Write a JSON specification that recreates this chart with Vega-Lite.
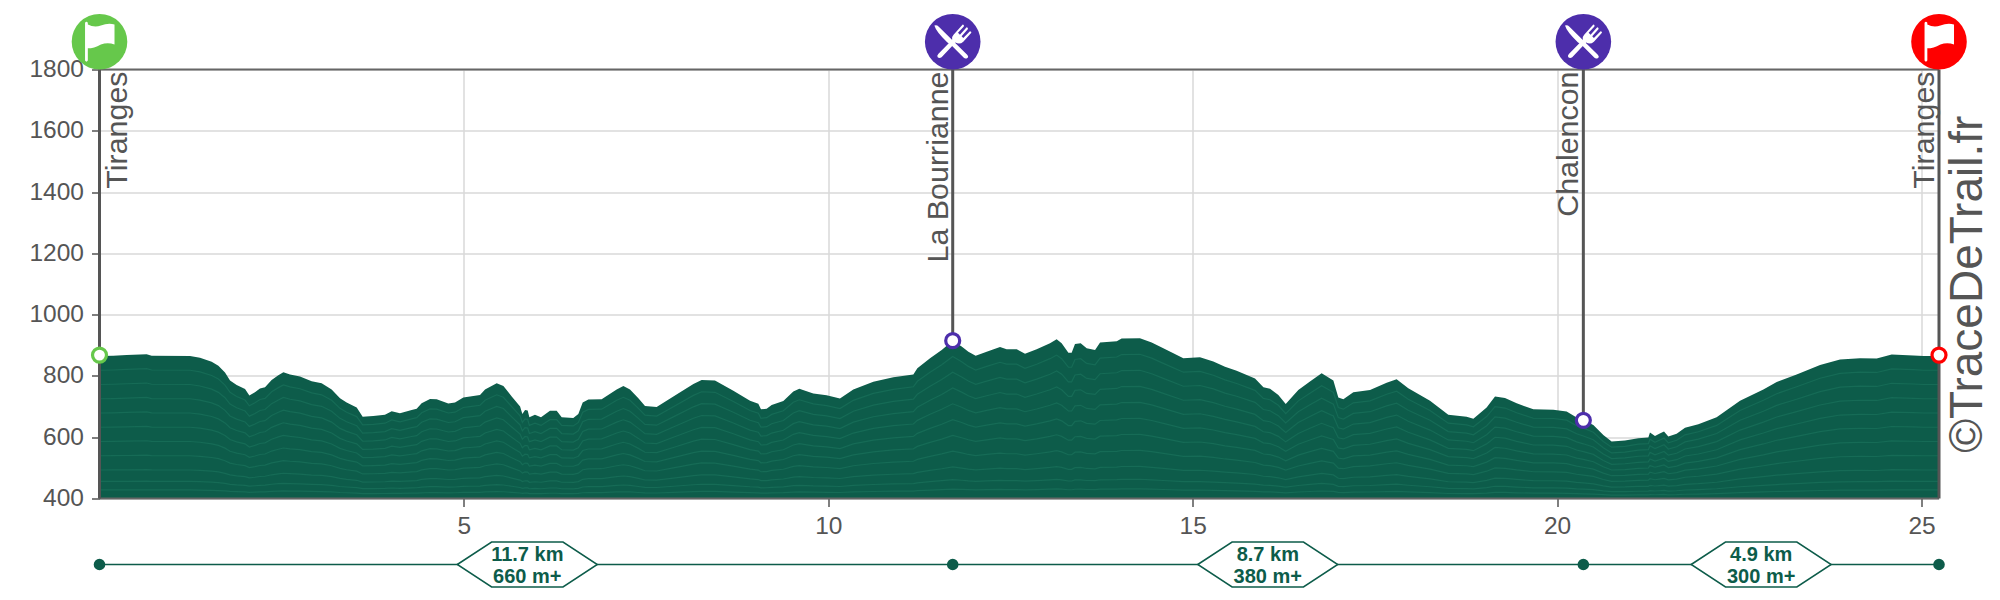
{
"$schema":"https://vega.github.io/schema/vega-lite/v6.json",
"width":1839.5,"height":429,
"autosize":"none",
"padding":{"left":99.5,"top":69.5,"right":61,"bottom":101.5},
"background":"white",
"config":{"font":"Liberation Sans","view":{"stroke":null}},
"datasets":{
"profile":[
{"km":0,"ele":865},{"km":0.19,"ele":866},{"km":0.373,"ele":868},{"km":0.647,"ele":871},{"km":0.716,"ele":866},{"km":1.242,"ele":865},{"km":1.379,"ele":859},{"km":1.539,"ele":846},{"km":1.631,"ele":833},{"km":1.722,"ele":811},{"km":1.791,"ele":785},{"km":1.882,"ele":770},{"km":1.997,"ele":757},{"km":2.056,"ele":736},{"km":2.133,"ele":747},{"km":2.202,"ele":759},{"km":2.271,"ele":763},{"km":2.362,"ele":787},{"km":2.454,"ele":802},{"km":2.523,"ele":812},{"km":2.614,"ele":805},{"km":2.751,"ele":798},{"km":2.911,"ele":783},{"km":3.048,"ele":776},{"km":3.185,"ele":756},{"km":3.3,"ele":727},{"km":3.391,"ele":713},{"km":3.529,"ele":697},{"km":3.611,"ele":667},{"km":3.757,"ele":669},{"km":3.917,"ele":673},{"km":4.009,"ele":685},{"km":4.123,"ele":678},{"km":4.283,"ele":689},{"km":4.352,"ele":693},{"km":4.42,"ele":711},{"km":4.535,"ele":725},{"km":4.626,"ele":724},{"km":4.786,"ele":710},{"km":4.878,"ele":713},{"km":4.992,"ele":730},
{"km":5.084,"ele":733},{"km":5.221,"ele":738},{"km":5.29,"ele":756},{"km":5.45,"ele":776},{"km":5.542,"ele":767},{"km":5.656,"ele":733},{"km":5.771,"ele":700},{"km":5.802,"ele":676},{"km":5.839,"ele":689},{"km":5.875,"ele":687},{"km":5.898,"ele":665},{"km":5.975,"ele":673},{"km":6.058,"ele":665},{"km":6.181,"ele":686},{"km":6.273,"ele":686},{"km":6.342,"ele":665},{"km":6.501,"ele":663},{"km":6.57,"ele":676},{"km":6.63,"ele":713},{"km":6.708,"ele":723},{"km":6.89,"ele":724},{"km":7.096,"ele":756},{"km":7.188,"ele":767},{"km":7.279,"ele":756},{"km":7.394,"ele":727},{"km":7.485,"ele":702},{"km":7.645,"ele":699},{"km":7.874,"ele":733},{"km":8.149,"ele":774},{"km":8.262,"ele":787},{"km":8.445,"ele":785},{"km":8.697,"ele":752},{"km":8.926,"ele":719},{"km":9.04,"ele":709},{"km":9.076,"ele":691},{"km":9.154,"ele":693},{"km":9.223,"ele":705},{"km":9.383,"ele":718},{"km":9.52,"ele":749},{"km":9.602,"ele":758},{"km":9.794,"ele":743},{"km":9.977,"ele":737},
{"km":10.16,"ele":726},{"km":10.343,"ele":756},{"km":10.618,"ele":781},{"km":10.892,"ele":796},{"km":11.167,"ele":805},{"km":11.222,"ele":825},{"km":11.396,"ele":858},{"km":11.556,"ele":885},{"km":11.707,"ele":915},{"km":11.83,"ele":896},{"km":11.922,"ele":879},{"km":12.022,"ele":866},{"km":12.173,"ele":879},{"km":12.356,"ele":894},{"km":12.447,"ele":887},{"km":12.585,"ele":887},{"km":12.699,"ele":872},{"km":12.859,"ele":887},{"km":13.042,"ele":907},{"km":13.133,"ele":920},{"km":13.202,"ele":907},{"km":13.294,"ele":876},{"km":13.339,"ele":876},{"km":13.385,"ele":904},{"km":13.463,"ele":907},{"km":13.545,"ele":890},{"km":13.66,"ele":885},{"km":13.729,"ele":909},{"km":13.958,"ele":913},{"km":14.025,"ele":922},{"km":14.276,"ele":923},{"km":14.437,"ele":909},{"km":14.597,"ele":890},{"km":14.872,"ele":858},{"km":15.1,"ele":861},
{"km":15.283,"ele":847},{"km":15.443,"ele":830},{"km":15.603,"ele":817},{"km":15.855,"ele":792},{"km":15.97,"ele":763},{"km":16.061,"ele":758},{"km":16.175,"ele":738},{"km":16.276,"ele":708},{"km":16.449,"ele":754},{"km":16.609,"ele":782},{"km":16.769,"ele":809},{"km":16.93,"ele":785},{"km":16.998,"ele":730},{"km":17.067,"ele":724},{"km":17.204,"ele":747},{"km":17.433,"ele":754},{"km":17.661,"ele":778},{"km":17.798,"ele":789},{"km":17.958,"ele":760},{"km":18.256,"ele":719},{"km":18.507,"ele":673},{"km":18.759,"ele":667},{"km":18.851,"ele":660},{"km":19.033,"ele":697},{"km":19.148,"ele":733},{"km":19.285,"ele":728},{"km":19.445,"ele":711},{"km":19.674,"ele":691},{"km":19.948,"ele":690},{"km":20.131,"ele":684},{"km":20.268,"ele":664},
{"km":20.36,"ele":655},{"km":20.497,"ele":640},{"km":20.634,"ele":607},{"km":20.748,"ele":586},{"km":20.931,"ele":589},{"km":21.114,"ele":597},{"km":21.252,"ele":599},{"km":21.274,"ele":615},{"km":21.343,"ele":604},{"km":21.402,"ele":611},{"km":21.467,"ele":619},{"km":21.526,"ele":602},{"km":21.64,"ele":611},{"km":21.755,"ele":631},{"km":21.938,"ele":642},{"km":22.189,"ele":665},{"km":22.51,"ele":719},{"km":22.83,"ele":756},{"km":23.013,"ele":780},{"km":23.287,"ele":805},{"km":23.608,"ele":836},{"km":23.882,"ele":854},{"km":24.156,"ele":858},{"km":24.385,"ele":857},{"km":24.591,"ele":870},{"km":24.888,"ele":867},{"km":25.025,"ele":865},{"km":25.24,"ele":865}
],
"events":[
{"km":0,"ele":868,"from":400,"icon":"start","name":"Tiranges"},
{"km":11.707,"ele":915,"from":915,"icon":"food","name":"La Bourrianne"},
{"km":20.36,"ele":655,"from":655,"icon":"food","name":"Chalencon"},
{"km":25.24,"ele":868,"from":400,"icon":"finish","name":"Tiranges"}
],
"food":[{"km":11.707,"icon":"food"},{"km":20.36,"icon":"food"}],
"flags":[{"km":0,"icon":"start"},{"km":25.24,"icon":"finish"}],
"span":[{"km":0,"end":25.24}],
"labelsR":[{"km":0,"name":"Tiranges"}],
"labelsL":[{"km":11.707,"name":"La Bourrianne"},{"km":20.36,"name":"Chalencon"},{"km":25.24,"name":"Tiranges"}],
"sections":[
{"km":5.87,"dist":"11.7 km","gain":"660 m+"},
{"km":16.03,"dist":"8.7 km","gain":"380 m+"},
{"km":22.8,"dist":"4.9 km","gain":"300 m+"}
],
"mark":[{"km":25.24,"text":"©TraceDeTrail.fr"}]
},
"encoding":{
"x":{"field":"km","type":"quantitative","title":null,
"scale":{"domain":[0,25.24],"nice":false,"zero":false},
"axis":{"values":[5,10,15,20,25],"format":"d","domain":false,"grid":true,"gridColor":"#d8d8d8","gridWidth":1.5,"tickColor":"#555555","tickWidth":1.5,"tickSize":8,"labelColor":"#555555","labelFontSize":24.5,"labelPadding":8,"labelFont":"Liberation Sans","labelFlush":false,"labelBound":false}}
},
"layer":[
{"data":{"name":"profile"},"mark":{"type":"area","color":"#0d5c4a","interpolate":"linear"},
"encoding":{"y":{"field":"ele","type":"quantitative","title":null,"scale":{"domain":[400,1800],"nice":false,"zero":false},
"axis":{"values":[400,600,800,1000,1200,1400,1600,1800],"format":"d","domain":false,"grid":true,"gridColor":"#d8d8d8","gridWidth":1.5,"tickColor":"#555555","tickWidth":1.5,"tickSize":8,"labelColor":"#555555","labelFontSize":24.5,"labelPadding":8,"labelFont":"Liberation Sans","labelBound":false,"labelFlush":false}},"y2":{"datum":400}}},
{"data":{"name":"profile"},"mark":{"type":"line","color":"#166b56","strokeWidth":1.2},"encoding":{"y":{"field":"ele","type":"quantitative","axis":null,"scale":{"domain":[400,1955.56],"nice":false,"zero":false}}}},
{"data":{"name":"profile"},"mark":{"type":"line","color":"#166b56","strokeWidth":1.2},"encoding":{"y":{"field":"ele","type":"quantitative","axis":null,"scale":{"domain":[400,2150],"nice":false,"zero":false}}}},
{"data":{"name":"profile"},"mark":{"type":"line","color":"#166b56","strokeWidth":1.2},"encoding":{"y":{"field":"ele","type":"quantitative","axis":null,"scale":{"domain":[400,2400],"nice":false,"zero":false}}}},
{"data":{"name":"profile"},"mark":{"type":"line","color":"#166b56","strokeWidth":1.2},"encoding":{"y":{"field":"ele","type":"quantitative","axis":null,"scale":{"domain":[400,2733.33],"nice":false,"zero":false}}}},
{"data":{"name":"profile"},"mark":{"type":"line","color":"#166b56","strokeWidth":1.2},"encoding":{"y":{"field":"ele","type":"quantitative","axis":null,"scale":{"domain":[400,3200],"nice":false,"zero":false}}}},
{"data":{"name":"profile"},"mark":{"type":"line","color":"#166b56","strokeWidth":1.2},"encoding":{"y":{"field":"ele","type":"quantitative","axis":null,"scale":{"domain":[400,3900],"nice":false,"zero":false}}}},
{"data":{"name":"profile"},"mark":{"type":"line","color":"#166b56","strokeWidth":1.2},"encoding":{"y":{"field":"ele","type":"quantitative","axis":null,"scale":{"domain":[400,5066.67],"nice":false,"zero":false}}}},
{"data":{"name":"profile"},"mark":{"type":"line","color":"#166b56","strokeWidth":1.2},"encoding":{"y":{"field":"ele","type":"quantitative","axis":null,"scale":{"domain":[400,7400],"nice":false,"zero":false}}}},
{"data":{"name":"profile"},"mark":{"type":"line","color":"#166b56","strokeWidth":1.2},"encoding":{"y":{"field":"ele","type":"quantitative","axis":null,"scale":{"domain":[400,12066.67],"nice":false,"zero":false}}}},
{"data":{"name":"profile"},"mark":{"type":"line","color":"#166b56","strokeWidth":1.2},"encoding":{"y":{"field":"ele","type":"quantitative","axis":null,"scale":{"domain":[400,23733.33],"nice":false,"zero":false}}}},
{"data":{"name":"span"},"mark":{"type":"rule","color":"#666666","strokeWidth":2},"encoding":{"x2":{"field":"end"},"y":{"datum":1800,"axis":null,"scale":{"domain":[400,1800],"nice":false,"zero":false}}}},
{"data":{"name":"span"},"mark":{"type":"rule","color":"#666666","strokeWidth":2},"encoding":{"x2":{"field":"end"},"y":{"datum":400,"axis":null,"scale":{"domain":[400,1800],"nice":false,"zero":false}}}},
{"data":{"name":"events"},"mark":{"type":"rule","color":"#555555","strokeWidth":3},"encoding":{"y":{"field":"from","type":"quantitative","axis":null,"scale":{"domain":[400,1800],"nice":false,"zero":false}},"y2":{"datum":1800}}},
{"data":{"name":"events"},"mark":{"type":"point","shape":"circle","filled":false,"fill":"white","fillOpacity":1,"opacity":1,"strokeWidth":3.2,"size":196},
"encoding":{"y":{"field":"ele","type":"quantitative","axis":null,"scale":{"domain":[400,1800],"nice":false,"zero":false}},
"stroke":{"field":"icon","type":"nominal","legend":null,"scale":{"domain":["start","food","finish"],"range":["#66c84b","#4d2eab","#ff0000"]}}}},
{"data":{"name":"events"},"mark":{"type":"point","shape":"circle","filled":true,"opacity":1,"size":3091,"yOffset":-27.8},
"encoding":{"y":{"datum":1800,"axis":null,"scale":{"domain":[400,1800],"nice":false,"zero":false}},
"color":{"field":"icon","type":"nominal","legend":null,"scale":{"domain":["start","food","finish"],"range":["#66c84b","#4d2eab","#ff0000"]}}}},
{"data":{"name":"flags"},"mark":{"type":"point","filled":true,"opacity":1,"color":"white","size":3091,"yOffset":-27.8,
"shape":"M-0.52-0.68 Q-0.47-0.76 -0.42-0.68 L-0.42-0.62 Q-0.2-0.5 0.05-0.58 Q0.3-0.68 0.54-0.62 L0.54 0.1 Q0.3 0.02 0.05 0.1 Q-0.2 0.24 -0.42 0.24 L-0.42 0.68 Q-0.47 0.76 -0.52 0.68 Z"},
"encoding":{"y":{"datum":1800,"axis":null,"scale":{"domain":[400,1800],"nice":false,"zero":false}}}},
{"data":{"name":"food"},"mark":{"type":"point","filled":true,"opacity":1,"color":"white","size":3091,"yOffset":-27.8,
"shape":"M-.66 -.58 Q-.58 -.62 -.5 -.54 L.52 .47 Q.6 .56 .5 .6 Q.44 .62 .4 .58 L-.05 .13 L-.2 .02 Q-.6 -.36 -.66 -.58 Z"},
"encoding":{"y":{"datum":1800,"axis":null,"scale":{"domain":[400,1800],"nice":false,"zero":false}}}},
{"data":{"name":"food"},"mark":{"type":"point","filled":true,"opacity":1,"color":"white","size":3091,"yOffset":-27.8,
"shape":"M.03 -.25 L.36 -.62 Q.42 -.62 .4 -.55 L.19 -.32 L.26 -.25 L.5 -.52 Q.55 -.52 .55 -.46 L.32 -.2 L.38 -.13 L.62 -.38 Q.68 -.38 .67 -.32 L.38 0 Q.25 .12 .1 .03 L-.4 .56 Q-.48 .62 -.54 .56 Q-.58 .5 -.52 .44 L-.02 -.07 Q-.05 -.17 .03 -.25 Z"},
"encoding":{"y":{"datum":1800,"axis":null,"scale":{"domain":[400,1800],"nice":false,"zero":false}}}},
{"data":{"name":"labelsR"},"mark":{"type":"text","angle":270,"align":"right","baseline":"alphabetic","fontSize":30.4,"color":"#555555","dy":27,"dx":-2},
"encoding":{"y":{"datum":1800,"axis":null,"scale":{"domain":[400,1800],"nice":false,"zero":false}},"text":{"field":"name"}}},
{"data":{"name":"labelsL"},"mark":{"type":"text","angle":270,"align":"right","baseline":"alphabetic","fontSize":30.4,"color":"#555555","dy":-5,"dx":-2},
"encoding":{"y":{"datum":1800,"axis":null,"scale":{"domain":[400,1800],"nice":false,"zero":false}},"text":{"field":"name"}}},
{"data":{"name":"span"},"mark":{"type":"rule","color":"#0d5c4a","strokeWidth":1.5,"yOffset":66},"encoding":{"x2":{"field":"end"},"y":{"datum":400,"axis":null,"scale":{"domain":[400,1800],"nice":false,"zero":false}}}},
{"data":{"name":"events"},"mark":{"type":"point","shape":"circle","filled":true,"opacity":1,"color":"#0d5c4a","size":135,"yOffset":66},"encoding":{"y":{"datum":400,"axis":null,"scale":{"domain":[400,1800],"nice":false,"zero":false}}}},
{"data":{"name":"sections"},"mark":{"type":"point","filled":false,"fill":"white","fillOpacity":1,"opacity":1,"stroke":"#0d5c4a","strokeWidth":1.5,"size":19600,"yOffset":66,
"shape":"M-1 0 L-.51 -.32 L.51 -.32 L1 0 L.51 .32 L-.51 .32 Z"},
"encoding":{"y":{"datum":400,"axis":null,"scale":{"domain":[400,1800],"nice":false,"zero":false}}}},
{"data":{"name":"sections"},"mark":{"type":"text","fontSize":20,"fontWeight":"bold","color":"#0d5c4a","baseline":"middle","align":"center","yOffset":56},
"encoding":{"y":{"datum":400,"axis":null,"scale":{"domain":[400,1800],"nice":false,"zero":false}},"text":{"field":"dist"}}},
{"data":{"name":"sections"},"mark":{"type":"text","fontSize":20,"fontWeight":"bold","color":"#0d5c4a","baseline":"middle","align":"center","yOffset":78},
"encoding":{"y":{"datum":400,"axis":null,"scale":{"domain":[400,1800],"nice":false,"zero":false}},"text":{"field":"gain"}}},
{"data":{"name":"mark"},"mark":{"type":"text","angle":270,"align":"left","baseline":"alphabetic","fontSize":46,"color":"#555555","dy":43},
"encoding":{"y":{"datum":549,"axis":null,"scale":{"domain":[400,1800],"nice":false,"zero":false}},"text":{"field":"text"}}}
],
"resolve":{"scale":{"y":"independent"}}
}
